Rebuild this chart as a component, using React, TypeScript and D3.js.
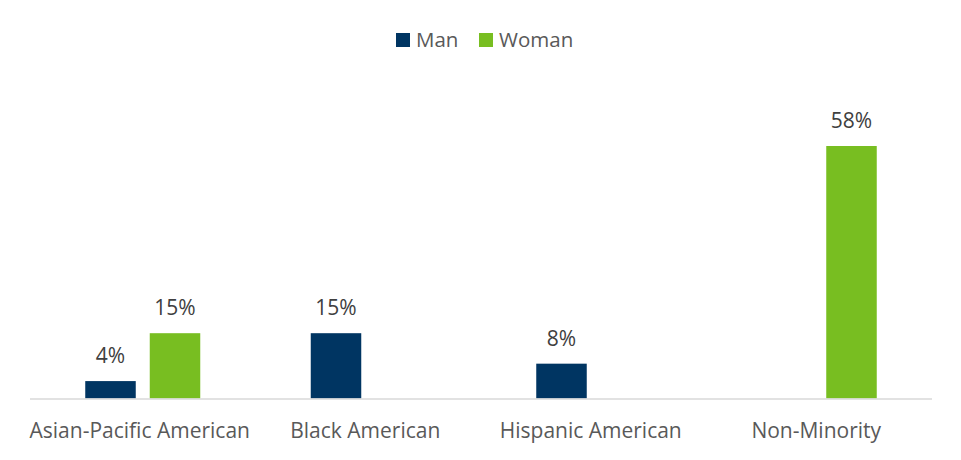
import React from "react";
import * as d3 from "d3";

const categories = ["Asian-Pacific American", "Black American", "Hispanic American", "Non-Minority"];
const seriesNames = ["Man", "Woman"];
const manValues: (number | null)[] = [4, 15, 8, null];
const womanValues: (number | null)[] = [15, null, null, 58];
const colors = ["#003562", "#78BE21"];

const W = 961;
const H = 460;
const FONT = "'Open Sans', sans-serif";

export default function App() {
  const x = d3.scaleBand<string>().domain(categories).range([30, 932]).paddingInner(0).paddingOuter(0);
  const xs = d3.scaleBand<string>().domain(seriesNames).range([0, 115]).paddingInner(14 / 64.5).paddingOuter(0);
  const y = d3.scaleLinear().domain([0, 58]).range([398.5, 146]);
  const series = [manValues, womanValues];
  const bw = x.bandwidth();
  return (
    <svg width={W} height={H} style={{ position: "absolute", left: 0, top: 0, background: "#fff" }}>
      <g>
        {seriesNames.map((s, i) => {
          const lx = i === 0 ? 396 : 479;
          return (
            <g key={s}>
              <rect x={lx} y={33} width={14} height={14} fill={colors[i]} />
              <text x={lx + 20} y={47} fontFamily={FONT} fontSize={20.5} fill="#595959">{s}</text>
            </g>
          );
        })}
      </g>
      {categories.map((c, ci) => {
        const gx = (x(c) ?? 0) + bw / 2 - 57.5;
        return (
          <g key={c}>
            {series.map((vals, si) => {
              const v = vals[ci];
              if (v == null) return null;
              const bx = gx + (xs(seriesNames[si]) ?? 0);
              return (
                <g key={si}>
                  <rect x={bx} y={y(v)} width={xs.bandwidth()} height={y(0) - y(v)} fill={colors[si]} />
                  <text x={bx + xs.bandwidth() / 2} y={y(v) - 18} textAnchor="middle" fontFamily={FONT} fontSize={21} fill="#404040">{v}%</text>
                </g>
              );
            })}
            <text x={(x(c) ?? 0) + bw / 2 - 3} y={438} textAnchor="middle" fontFamily={FONT} fontSize={21} fill="#595959">{c}</text>
          </g>
        );
      })}
      <line x1={30} x2={932} y1={399} y2={399} stroke="#d9d9d9" strokeWidth={1.5} />
    </svg>
  );
}
